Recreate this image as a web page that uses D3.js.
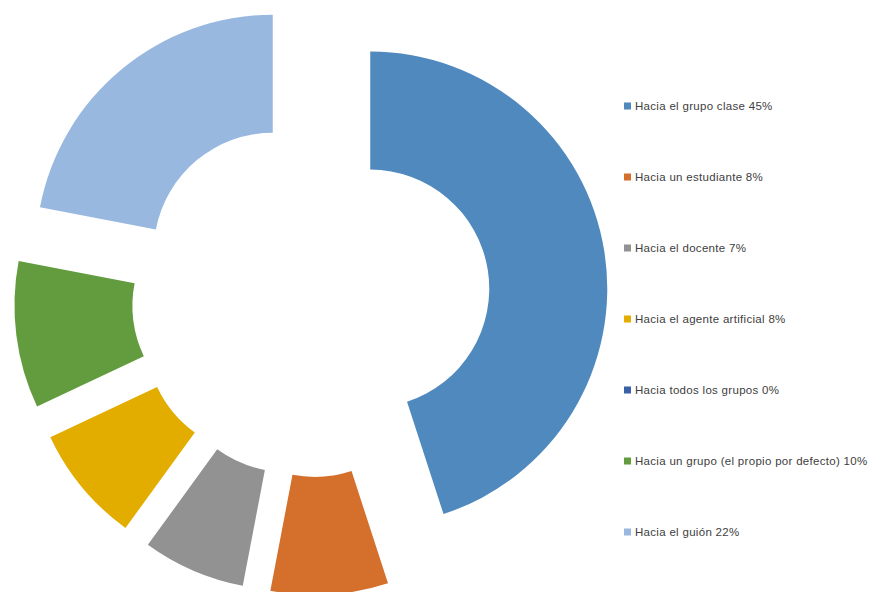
<!DOCTYPE html>
<html>
<head>
<meta charset="utf-8">
<script src="https://cdn.jsdelivr.net/npm/d3@7"></script>
<style>
  html, body { margin: 0; padding: 0; background: #fff; }
  svg { display: block; }
</style>
</head>
<body>
<svg id="chart" width="881" height="592"></svg>
<script>
// Destinos de la comunicación (porcentaje)
const categories = [
  "Hacia el grupo clase",
  "Hacia un estudiante",
  "Hacia el docente",
  "Hacia el agente artificial",
  "Hacia todos los grupos",
  "Hacia un grupo (el propio por defecto)",
  "Hacia el guión"
];
const values = [45, 8, 7, 8, 0, 10, 22];
const colors = ["#4f89bd", "#d4702c", "#929292", "#e3ad00", "#3a60a8", "#629c3e", "#98b8df"];

const svg = d3.select("#chart");
const cx = 311, cy = 298;
const outerR = 237, innerR = 119, explode = 60;

const pie = d3.pie().sort(null).value(d => d.value).startAngle(0).endAngle(2 * Math.PI);
const arc = d3.arc().innerRadius(innerR).outerRadius(outerR);

const data = categories.map((c, i) => ({ name: c, value: values[i], color: colors[i] }));
const arcs = pie(data);

const g = svg.append("g").attr("transform", `translate(${cx},${cy})`);

// Sectores separados del centro a lo largo de su bisectriz
g.selectAll("path")
  .data(arcs.filter(a => a.value > 0))
  .join("path")
  .attr("d", arc)
  .attr("fill", a => a.data.color)
  .attr("transform", a => {
    const mid = (a.startAngle + a.endAngle) / 2;
    return `translate(${explode * Math.sin(mid)},${-explode * Math.cos(mid)})`;
  });

// Leyenda
const legendY = d3.scalePoint().domain(categories).range([106, 532]);
const legend = svg.append("g").attr("class", "legend");
const item = legend.selectAll("g")
  .data(data)
  .join("g")
  .attr("transform", d => `translate(624,${legendY(d.name)})`);

item.append("rect")
  .attr("x", 0).attr("y", -3.5)
  .attr("width", 7).attr("height", 7)
  .attr("fill", d => d.color);

item.append("text")
  .attr("x", 11).attr("y", 0)
  .attr("dy", "0.35em")
  .attr("font-family", "'Liberation Sans', Arial, sans-serif")
  .attr("font-size", 11.5)
  .attr("letter-spacing", 0.3)
  .attr("fill", "#404040")
  .text(d => `${d.name} ${d.value}%`);
</script>
</body>
</html>
